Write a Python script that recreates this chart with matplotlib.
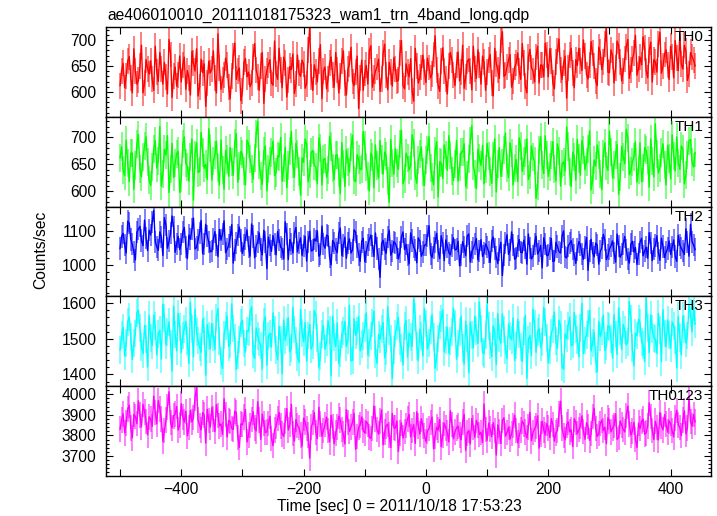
import numpy as np
import matplotlib
matplotlib.use("Agg")
import matplotlib.pyplot as plt
from matplotlib.ticker import MultipleLocator

plt.rcParams['font.family'] = ['Liberation Sans', 'DejaVu Sans']

title = "ae406010010_20111018175323_wam1_trn_4band_long.qdp"
xlabel = "Time [sec] 0 = 2011/10/18 17:53:23"
ylabel = "Counts/sec"
band_names = ["TH0", "TH1", "TH2", "TH3", "TH0123"]
band_colors = ["#ff0000", "#00ff00", "#0000ff", "#00ffff", "#ff00ff"]

# time grid (seconds from 2011/10/18 17:53:23): bins at -500, -497.5, ... 440
t_start, t_stop, t_step = -500.0, 440.0, 2.5

# values at -500, -495, ..., 440
th0 = [612, 655, 631, 668, 598, 640, 622, 690, 617, 645,
       660, 603, 639, 676, 615, 628, 701, 589, 648, 632,
       619, 667, 641, 594, 655, 683, 610, 637, 572, 659,
       644, 626, 712, 605, 633, 651, 587, 670, 624, 646,
       601, 664, 638, 617, 693, 629, 650, 578, 641, 662,
       613, 635, 684, 608, 656, 622, 643, 597, 671, 630,
       654, 616, 725, 603, 639, 660, 587, 648, 625, 667,
       609, 642, 631, 679, 594, 653, 620, 638, 568, 661,
       636, 615, 689, 627, 648, 601, 674, 632, 657, 611,
       645, 623, 699, 606, 639, 664, 582, 650, 628, 671,
       618, 647, 635, 708, 612, 659, 640, 596, 676, 633,
       652, 621, 690, 628, 663, 604, 645, 681, 615, 657,
       638, 672, 592, 654, 626, 716, 633, 661, 609, 648,
       675, 624, 656, 598, 682, 640, 668, 617, 651, 694,
       629, 660, 606, 678, 643, 655, 588, 671, 636, 662,
       684, 641, 669, 625, 697, 650, 612, 676, 658, 722,
       637, 670, 646, 689, 621, 664, 701, 643, 675, 632,
       667, 706, 641, 680, 619, 658, 693, 636, 672, 651,
       688, 627, 665, 710, 644, 679, 635, 668, 650]
# values at -497.5, -492.5, ..., 437.5
th0_mid = [641, 608, 659, 627, 683, 615, 650, 598, 662, 634,
           624, 688, 620, 645, 657, 596, 672, 630, 611, 669,
           652, 605, 627, 678, 640, 592, 663, 654, 618, 637,
           679, 598, 646, 622, 665, 609, 631, 694, 640, 583,
           657, 629, 610, 668, 643, 603, 676, 625, 652, 617,
           698, 624, 642, 667, 590, 649, 673, 615, 636, 661,
           607, 681, 628, 652, 619, 691, 640, 606, 655, 632,
           676, 598, 660, 617, 644, 686, 612, 669, 627, 603,
           651, 679, 609, 640, 663, 625, 692, 604, 638, 666,
           620, 674, 612, 654, 629, 601, 684, 617, 647, 639,
           665, 627, 672, 643, 601, 685, 624, 650, 661, 612,
           677, 638, 607, 659, 641, 688, 626, 652, 669, 603,
           661, 617, 684, 642, 699, 630, 648, 672, 621, 655,
           640, 693, 611, 667, 647, 619, 688, 652, 629, 671,
           683, 617, 657, 702, 624, 669, 646, 684, 608, 651,
           660, 700, 633, 651, 674, 621, 686, 643, 693, 638,
           681, 617, 698, 658, 640, 687, 626, 663, 709, 645,
           652, 684, 627, 696, 662, 638, 715, 649, 681, 624,
           667, 699, 641, 653, 690, 622, 676, 661]

th1 = [662, 640, 695, 618, 671, 648, 705, 627, 684, 655,
       611, 678, 643, 720, 632, 667, 598, 689, 652, 674,
       625, 701, 646, 663, 584, 690, 637, 672, 650, 716,
       621, 668, 643, 695, 604, 659, 681, 630, 707, 647,
       669, 612, 688, 641, 662, 730, 628, 675, 601, 657,
       693, 635, 664, 619, 682, 648, 711, 626, 670, 593,
       654, 687, 633, 676, 645, 699, 612, 661, 640, 683,
       622, 668, 596, 651, 677, 636, 704, 618, 659, 642,
       685, 629, 671, 607, 648, 694, 632, 666, 580, 653,
       679, 641, 713, 624, 662, 647, 690, 615, 669, 636,
       658, 701, 627, 675, 590, 652, 686, 639, 667, 620,
       694, 645, 673, 609, 660, 722, 633, 678, 648, 614,
       689, 637, 665, 599, 681, 652, 708, 626, 671, 643,
       618, 684, 656, 697, 631, 664, 587, 676, 649, 703,
       628, 667, 642, 688, 610, 655, 719, 636, 673, 621,
       661, 694, 640, 679, 603, 658, 686, 632, 670, 647,
       712, 625, 668, 595, 683, 651, 699, 638, 664, 617,
       690, 643, 676, 608, 657, 725, 634, 672, 649, 685,
       623, 666, 701, 641, 679, 630, 694, 655, 672]
th1_mid = [683, 629, 652, 671, 604, 688, 642, 663, 701, 621,
           645, 694, 657, 610, 678, 703, 641, 626, 670, 598,
           687, 652, 619, 697, 668, 635, 709, 643, 622, 681,
           656, 693, 612, 640, 676, 628, 655, 690, 617, 674,
           638, 695, 660, 623, 707, 649, 613, 684, 641, 672,
           629, 666, 700, 643, 607, 675, 651, 689, 637, 662,
           697, 618, 672, 648, 614, 681, 659, 626, 702, 644,
           667, 635, 690, 609, 655, 682, 621, 668, 640, 711,
           646, 601, 663, 686, 625, 659, 673, 619, 696, 632,
           652, 687, 614, 671, 640, 705, 629, 658, 682, 611,
           677, 643, 612, 692, 655, 624, 668, 703, 638, 651,
           619, 673, 688, 630, 694, 647, 605, 662, 685, 641,
           666, 615, 697, 650, 628, 676, 643, 690, 612, 659,
           699, 637, 671, 622, 684, 656, 610, 701, 633, 667,
           645, 692, 619, 674, 651, 638, 683, 609, 664, 696,
           630, 677, 655, 712, 621, 647, 668, 603, 690, 639,
           673, 649, 687, 626, 664, 715, 631, 655, 692, 640,
           618, 681, 658, 697, 627, 670, 644, 688, 612, 661,
           705, 638, 652, 684, 614, 668, 696, 645]

th2 = [1048, 1092, 1035, 1121, 1060, 1015, 1104, 1071, 1130, 1042,
       1087, 1158, 1053, 1096, 1028, 1115, 1069, 1142, 1037, 1083,
       1062, 1109, 1019, 1075, 1136, 1051, 1094, 1033, 1118, 1066,
       1040, 1097, 1025, 1072, 1128, 1046, 1081, 1006, 1063, 1110,
       1034, 1077, 1052, 1119, 1021, 1068, 1045, 1101, 990, 1058,
       1086, 1030, 1073, 1047, 1125, 1016, 1061, 1092, 1038, 1079,
       1055, 1012, 1098, 1043, 1070, 1026, 1113, 1049, 1084, 1001,
       1064, 1036, 1107, 1057, 1020, 1076, 1044, 1095, 1031, 1068,
       1010, 1059, 1087, 1025, 1048, 965, 1072, 1034, 1101, 1040,
       1063, 1018, 1081, 1045, 1029, 1093, 1052, 1007, 1070, 1037,
       1058, 1114, 1022, 1066, 1041, 1085, 1013, 1054, 1030, 1079,
       1046, 998, 1068, 1027, 1090, 1039, 1061, 1015, 1074, 1035,
       1052, 1008, 1081, 1024, 1045, 970, 1063, 1031, 1096, 1017,
       1056, 1037, 1072, 1003, 1049, 1026, 1084, 1041, 992, 1060,
       1029, 1077, 1012, 1054, 1035, 1099, 1021, 1063, 1046, 1005,
       1068, 1033, 1051, 985, 1075, 1024, 1058, 1040, 1089, 1016,
       1047, 1070, 1009, 1055, 1032, 1083, 1019, 1061, 1038, 1002,
       1066, 1027, 1052, 1094, 1013, 1057, 1036, 1078, 1022, 1048,
       1031, 1073, 1011, 1059, 1040, 1105, 1026, 1068, 1045]
th2_mid = [1083, 1058, 1127, 1074, 1039, 1095, 1112, 1056, 1079, 1101,
           1124, 1068, 1043, 1081, 1137, 1049, 1092, 1110, 1062, 1045,
           1096, 1053, 1087, 1104, 1047, 1072, 1129, 1061, 1085, 1039,
           1075, 1058, 1103, 1091, 1036, 1057, 1117, 1044, 1088, 1071,
           1058, 1102, 1026, 1083, 1055, 1093, 1030, 1066, 1081, 1040,
           1061, 1097, 1052, 1018, 1089, 1074, 1035, 1109, 1063, 1028,
           1083, 1068, 1041, 1076, 1099, 1032, 1060, 1087, 1023, 1071,
           1045, 1092, 1028, 1081, 1063, 1035, 1102, 1054, 1011, 1078,
           1039, 1074, 1056, 1093, 1017, 1062, 1046, 1082, 1029, 1068,
           1050, 1037, 1096, 1060, 1004, 1071, 1043, 1079, 1026, 1058,
           1085, 1032, 1049, 1092, 1019, 1063, 1073, 1036, 1057, 1044,
           1069, 1030, 1052, 1084, 1009, 1049, 1077, 1042, 1025, 1061,
           1039, 1070, 1047, 1005, 1066, 1029, 1088, 1043, 1058, 1021,
           1074, 1036, 1051, 1090, 1018, 1062, 1032, 1057, 1079, 1027,
           1048, 1011, 1066, 1039, 1083, 1024, 1055, 1071, 1030, 1045,
           1059, 1017, 1080, 1042, 1036, 1064, 1003, 1050, 1072, 1028,
           1056, 1035, 1090, 1023, 1061, 1044, 1006, 1069, 1051, 1033,
           1078, 1041, 1020, 1063, 1047, 1085, 1014, 1054, 1037, 1070,
           1052, 1025, 1086, 1049, 1031, 1066, 1118, 1058]

th3 = [1468, 1532, 1489, 1561, 1442, 1515, 1580, 1476, 1538, 1421,
       1502, 1566, 1455, 1524, 1597, 1483, 1547, 1410, 1512, 1571,
       1461, 1528, 1493, 1603, 1449, 1519, 1477, 1555, 1398, 1508,
       1542, 1470, 1585, 1437, 1511, 1564, 1486, 1529, 1414, 1498,
       1552, 1463, 1520, 1590, 1445, 1507, 1481, 1548, 1426, 1515,
       1573, 1468, 1535, 1402, 1496, 1559, 1474, 1526, 1449, 1582,
       1492, 1437, 1540, 1483, 1567, 1420, 1513, 1471, 1551, 1396,
       1504, 1545, 1459, 1521, 1478, 1594, 1440, 1510, 1562, 1485,
       1531, 1455, 1507, 1578, 1431, 1499, 1546, 1466, 1523, 1388,
       1515, 1560, 1474, 1537, 1448, 1506, 1612, 1480, 1527, 1452,
       1543, 1489, 1568, 1417, 1501, 1557, 1463, 1532, 1494, 1586,
       1443, 1518, 1475, 1549, 1405, 1510, 1564, 1487, 1529, 1458,
       1596, 1481, 1536, 1428, 1503, 1570, 1469, 1541, 1497, 1439,
       1554, 1476, 1522, 1389, 1509, 1583, 1462, 1530, 1491, 1548,
       1433, 1516, 1575, 1473, 1538, 1415, 1501, 1561, 1484, 1527,
       1450, 1599, 1495, 1543, 1466, 1519, 1408, 1506, 1566, 1479,
       1534, 1446, 1512, 1587, 1470, 1525, 1492, 1557, 1424, 1509,
       1545, 1482, 1616, 1461, 1528, 1499, 1571, 1436, 1515, 1553,
       1474, 1537, 1418, 1503, 1563, 1488, 1596, 1520, 1541]
th3_mid = [1510, 1452, 1547, 1505, 1489, 1573, 1530, 1458, 1499, 1566,
           1481, 1535, 1514, 1443, 1559, 1520, 1487, 1591, 1466, 1534,
           1509, 1549, 1431, 1527, 1583, 1495, 1462, 1521, 1540, 1472,
           1505, 1560, 1493, 1417, 1536, 1478, 1598, 1502, 1455, 1544,
           1487, 1523, 1574, 1458, 1531, 1492, 1415, 1562, 1509, 1477,
           1526, 1441, 1498, 1553, 1519, 1463, 1588, 1495, 1434, 1517,
           1546, 1509, 1471, 1579, 1503, 1452, 1537, 1490, 1525, 1564,
           1478, 1431, 1512, 1549, 1497, 1438, 1556, 1521, 1466, 1508,
           1573, 1489, 1544, 1457, 1512, 1528, 1446, 1590, 1501, 1469,
           1536, 1493, 1427, 1552, 1516, 1478, 1561, 1439, 1507, 1585,
           1471, 1524, 1505, 1448, 1539, 1581, 1496, 1460, 1518, 1543,
           1487, 1564, 1429, 1501, 1547, 1475, 1522, 1603, 1463, 1509,
           1535, 1450, 1519, 1571, 1488, 1526, 1444, 1507, 1559, 1481,
           1512, 1437, 1566, 1498, 1453, 1541, 1519, 1476, 1588, 1503,
           1469, 1528, 1493, 1552, 1421, 1514, 1537, 1480, 1574, 1496,
           1530, 1458, 1511, 1580, 1489, 1442, 1549, 1523, 1467, 1537,
           1500, 1568, 1456, 1521, 1540, 1483, 1605, 1474, 1516, 1555,
           1492, 1437, 1531, 1567, 1503, 1459, 1525, 1582, 1478, 1510,
           1547, 1496, 1563, 1455, 1528, 1509, 1572, 1590]

th0123 = [3830, 3905, 3861, 3947, 3788, 3892, 3968, 3842, 3915, 3803,
          3880, 3991, 3856, 3929, 3772, 3874, 4012, 3837, 3903, 3826,
          3954, 3865, 3798, 3921, 3887, 4030, 3849, 3911, 3763, 3872,
          3935, 3818, 3896, 3855, 3978, 3792, 3867, 3829, 3910, 3741,
          3852, 3926, 3803, 3878, 3835, 3964, 3781, 3859, 3817, 3893,
          3750, 3844, 3912, 3808, 3869, 3826, 3951, 3773, 3848, 3801,
          3884, 3834, 3690, 3862, 3815, 3937, 3796, 3853, 3824, 3898,
          3760, 3841, 3876, 3807, 3925, 3819, 3865, 3733, 3838, 3890,
          3812, 3856, 3785, 3943, 3829, 3870, 3754, 3847, 3802, 3906,
          3835, 3722, 3861, 3818, 3881, 3793, 3852, 3915, 3806, 3845,
          3770, 3833, 3889, 3798, 3826, 3745, 3859, 3811, 3920, 3784,
          3837, 3801, 3866, 3727, 3824, 3882, 3790, 3848, 3815, 3953,
          3776, 3831, 3862, 3705, 3818, 3873, 3796, 3840, 3809, 3898,
          3764, 3827, 3855, 3788, 3912, 3814, 3846, 3738, 3869, 3802,
          3835, 3881, 3772, 3824, 3966, 3799, 3851, 3817, 3746, 3862,
          3828, 3895, 3781, 3843, 3810, 3932, 3795, 3857, 3824, 3760,
          3871, 3836, 3905, 3789, 3850, 3817, 3943, 3802, 3864, 3741,
          3833, 3880, 3812, 3958, 3825, 3869, 3778, 3846, 3901, 3816,
          3857, 3793, 3922, 3838, 3874, 3807, 3985, 3845, 3866]
th0123_mid = [3876, 3812, 3928, 3837, 3902, 3857, 3899, 3951, 3868, 3890,
              3844, 3912, 3969, 3881, 3825, 3938, 3863, 3895, 3940, 3850,
              3889, 3917, 3838, 3866, 3983, 3876, 3827, 3898, 3927, 3841,
              3879, 3950, 3847, 3805, 3901, 3873, 3834, 3918, 3791, 3856,
              3890, 3768, 3849, 3915, 3822, 3874, 3903, 3814, 3858, 3786,
              3827, 3882, 3845, 3796, 3931, 3853, 3809, 3877, 3838, 3748,
              3866, 3802, 3840, 3911, 3785, 3855, 3824, 3889, 3769, 3843,
              3813, 3894, 3829, 3758, 3862, 3841, 3907, 3794, 3851, 3824,
              3868, 3792, 3833, 3880, 3806, 3924, 3817, 3855, 3741, 3838,
              3870, 3811, 3787, 3849, 3902, 3825, 3761, 3846, 3881, 3799,
              3821, 3862, 3735, 3840, 3878, 3803, 3836, 3768, 3854, 3817,
              3846, 3779, 3902, 3812, 3758, 3839, 3873, 3805, 3766, 3829,
              3860, 3794, 3825, 3851, 3761, 3886, 3814, 3783, 3848, 3823,
              3799, 3870, 3816, 3841, 3774, 3832, 3895, 3808, 3827, 3858,
              3790, 3852, 3813, 3905, 3837, 3779, 3866, 3828, 3881, 3807,
              3845, 3819, 3862, 3776, 3893, 3834, 3810, 3875, 3840, 3886,
              3817, 3849, 3781, 3870, 3829, 3897, 3856, 3821, 3781, 3860,
              3868, 3806, 3847, 3893, 3780, 3838, 3912, 3827, 3855, 3871,
              3823, 3884, 3851, 3799, 3919, 3836, 3868, 3901]

band_errors = [25, 26, 32, 39, 62]
band_main = [th0, th1, th2, th3, th0123]
band_mid = [th0_mid, th1_mid, th2_mid, th3_mid, th0123_mid]

# axis settings
xlim = (-523, 466)
ylims = [(552, 725), (572, 738), (910, 1169), (1367, 1619), (3603, 4039)]
ymajor = [50, 50, 100, 100, 100]
yminor = [10, 10, 20, 20, 20]

times = np.arange(t_start, t_stop + 0.1, t_step)


def merge(a, b):
    out = np.empty(len(a) + len(b), dtype=float)
    out[0::2] = a
    out[1::2] = b
    return out


W, H = 717, 516
fig = plt.figure(figsize=(W / 100, H / 100), dpi=100)
left, right, top, bottom = 106, 711, 27, 476
ph = (bottom - top) / 5.0
fs = 11.25

for i in range(5):
    y0 = H - (top + (i + 1) * ph)
    ax = fig.add_axes([left / W, y0 / H, (right - left) / W, ph / H])
    vals = merge(band_main[i], band_mid[i])
    err = np.full_like(vals, band_errors[i])
    c = band_colors[i]
    ax.vlines(times, vals - err, vals + err, color=c, alpha=0.5, lw=1.4)
    ax.plot(times, vals, color=c, lw=1.0)
    ax.set_xlim(*xlim)
    ax.set_ylim(*ylims[i])
    ax.yaxis.set_major_locator(MultipleLocator(ymajor[i]))
    ax.yaxis.set_minor_locator(MultipleLocator(yminor[i]))
    ax.xaxis.set_major_locator(MultipleLocator(200))
    ax.xaxis.set_minor_locator(MultipleLocator(100))
    ax.tick_params(which='both', direction='in', top=True, right=True,
                   labelsize=fs, width=0.8)
    ax.tick_params(which='major', length=5, pad=7)
    ax.tick_params(which='minor', length=2.5)
    ax.tick_params(axis='x', which='minor', length=5)
    for s in ax.spines.values():
        s.set_linewidth(1.0)
    if i < 4:
        ax.tick_params(axis='x', labelbottom=False)
    else:
        ax.tick_params(axis='x', pad=4)
    ax.text(1 - 8 / (right - left), 1 - 3 / ph, band_names[i],
            transform=ax.transAxes, ha='right', va='top', fontsize=11)

fig.text(107 / W, 1 - 15 / H, title, ha='left', va='center', fontsize=fs)
fig.text(399 / W, 1 - 507 / H, xlabel, ha='center', va='center', fontsize=fs)
fig.text(41 / W, 1 - 250 / H, ylabel, rotation=90, ha='center',
         va='center', fontsize=fs)

fig.savefig("out.png", dpi=100)
